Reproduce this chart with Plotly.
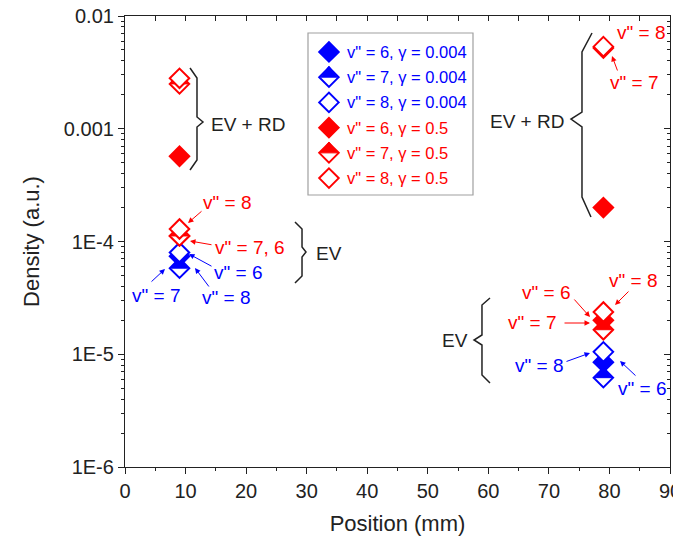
import plotly.graph_objects as go

# ---------------- data ----------------
position = [9, 79, 9, 79]            # mm  (first pair: EV group, second pair: EV+RD group)
# gamma = 0.004 (EV only)
pos_g004 = [9, 79]
v6_g004 = [7.4e-5, 8.5e-6]
v7_g004 = [5.8e-5, 6.2e-6]
v8_g004 = [8.0e-5, 1.05e-5]
# gamma = 0.5 (EV, then EV + RD)
v6_g05 = [1.12e-4, 2.0e-5, 5.7e-4, 2.0e-4]
v7_g05 = [1.12e-4, 1.65e-5, 2.5e-3, 5.2e-3]
v8_g05 = [1.29e-4, 2.37e-5, 2.8e-3, 5.35e-3]

y_tickvals = [1e-6, 1e-5, 1e-4, 1e-3, 1e-2]
y_ticktext = ["1E-6", "1E-5", "1E-4", "0.001", "0.01"]

legend_labels = ['v" = 6, \u03b3 = 0.004', 'v" = 7, \u03b3 = 0.004', 'v" = 8, \u03b3 = 0.004',
                 'v" = 6, \u03b3 = 0.5', 'v" = 7, \u03b3 = 0.5', 'v" = 8, \u03b3 = 0.5']

BLUE = "#0000ff"
RED = "#ff0000"
INK = "#222222"
FONT = "Liberation Sans, Arial, sans-serif"

MS = 15        # diamond size
LW = 2         # outline width
TS = 14.4      # size of the filled top-half triangle

fig = go.Figure()


def add_points(x, y, color, style, xa="x", ya="y"):
    if style == "filled":
        fig.add_trace(go.Scatter(x=x, y=y, mode="markers", xaxis=xa, yaxis=ya, showlegend=False,
                                 hoverinfo="skip",
                                 marker=dict(symbol="diamond", size=MS, color=color,
                                             line=dict(color=color, width=LW))))
    else:
        fig.add_trace(go.Scatter(x=x, y=y, mode="markers", xaxis=xa, yaxis=ya, showlegend=False,
                                 hoverinfo="skip",
                                 marker=dict(symbol="diamond", size=MS, color="white",
                                             line=dict(color=color, width=LW))))
        if style == "half":
            fig.add_trace(go.Scatter(x=x, y=y, mode="markers", xaxis=xa, yaxis=ya, showlegend=False,
                                     hoverinfo="skip",
                                     marker=dict(symbol="triangle-down", size=TS, angle=180,
                                                 standoff=TS / 4, color=color,
                                                 line=dict(color=color, width=1))))


series = [
    (pos_g004, v6_g004, BLUE, "filled"),
    (pos_g004, v7_g004, BLUE, "half"),
    (pos_g004, v8_g004, BLUE, "open"),
    (position, v6_g05, RED, "filled"),
    (position, v7_g05, RED, "half"),
    (position, v8_g05, RED, "open"),
]
for xs, ys, c, st in series:
    add_points(xs, ys, c, st)

# legend drawn on its own small axes
for i, (xs, ys, c, st) in enumerate(series):
    add_points([0.127], [i], c, st, xa="x2", ya="y2")

# dummy trace for the mirrored (inward-tick) axes
fig.add_trace(go.Scatter(x=[], y=[], xaxis="x3", yaxis="y3", showlegend=False))

# ---------------- layout helpers ----------------
# page offset of the figure inside the browser window (default body margin)
OX, OY = 8, 8
W, H = 681 - OX, 544 - OY
L, T, PW, PH = 125, 16, 545, 451     # plot area in window pixels


def P(x, y):
    return (x - L) / PW, (T + PH - y) / PH


ann = []
for i, (lbl, (_, _, c, _)) in enumerate(zip(legend_labels, series)):
    ann.append(dict(x=0.225, y=i, xref="x2", yref="y2", text=lbl, showarrow=False,
                    xanchor="left", yanchor="middle", font=dict(size=16.5, color=c, family=FONT)))

texts = [
    ("EV + RD", 248, 124, INK), ("EV", 329, 253, INK),
    ('v" = 8', 227, 202, RED), ('v" = 7, 6', 250, 247, RED),
    ('v" = 6', 238, 272, BLUE), ('v" = 8', 226, 297, BLUE), ('v" = 7', 156, 295, BLUE),
    ("EV + RD", 527, 122, INK), ('v" = 8', 641, 32, RED), ('v" = 7', 634, 82, RED),
    ("EV", 455, 340, INK), ('v" = 8', 633, 280, RED), ('v" = 6', 546, 292, RED),
    ('v" = 7', 532, 322, RED), ('v" = 8', 539, 365, BLUE), ('v" = 6', 642, 388, BLUE),
]
for t, x, y, c in texts:
    px, py = P(x, y)
    ann.append(dict(x=px, y=py, xref="paper", yref="paper", text=t, showarrow=False,
                    xanchor="center", yanchor="middle", font=dict(size=19, color=c, family=FONT)))

arrows = [  # tail -> head (pixels)
    ((203, 210), (188, 223), RED), ((213, 245), (190, 241), RED),
    ((213, 267), (189, 254), BLUE), ((210, 288), (195, 268), BLUE), ((150, 283), (165, 269), BLUE),
    ((618, 72), (612, 56), RED), ((630, 290), (615, 305), RED), ((573, 298), (590, 317), RED),
    ((563, 323), (590, 323), RED), ((565, 362), (590, 353), BLUE), ((637, 377), (620, 361), BLUE),
]
for (tx, ty), (hx, hy), c in arrows:
    px, py = P(hx, hy)
    ann.append(dict(x=px, y=py, xref="paper", yref="paper", text="", showarrow=True,
                    ax=tx - hx, ay=ty - hy, arrowhead=2, arrowsize=1.1, arrowwidth=1,
                    arrowcolor=c, standoff=0, startstandoff=0))

braces = [
    [(190, 68), (197, 78), (197, 117), (203, 122), (197, 127), (197, 160), (190, 170)],
    [(295, 222), (302, 229), (302, 247), (306, 252), (302, 257), (302, 276), (295, 283)],
    [(592, 33), (582, 52), (582, 112), (571, 119), (582, 127), (582, 197), (591, 217)],
    [(490, 298), (482, 305), (482, 335), (474, 340), (482, 345), (482, 375), (490, 383)],
]
shapes = []
for br in braces:
    pts = [P(x, y) for x, y in br]
    path = "M " + " L ".join(f"{a:.4f},{b:.4f}" for a, b in pts)
    shapes.append(dict(type="path", xref="paper", yref="paper", path=path,
                       line=dict(color=INK, width=1.5)))
shapes.append(dict(type="rect", xref="x2 domain", yref="y2 domain", x0=0, x1=1, y0=0, y1=1,
                   line=dict(color="#a0a0a0", width=1.2), fillcolor="rgba(0,0,0,0)"))

minor_y = [m * 10 ** e for e in range(-6, -2) for m in range(2, 10)]

axis_common = dict(showgrid=False, zeroline=False, showline=True, linecolor=INK, linewidth=1.2,
                   tickcolor=INK, tickwidth=1.2, automargin=False)

fig.update_layout(
    width=W, height=H,
    margin=dict(l=L - OX, r=W - (L - OX) - PW, t=T - OY, b=H - (T - OY) - PH, autoexpand=False),
    paper_bgcolor="white", plot_bgcolor="white",
    font=dict(family=FONT, color=INK),
    showlegend=False,
    xaxis=dict(range=[0, 90], dtick=10, ticks="outside", ticklen=6, ticklabeloverflow="allow",
               minor=dict(dtick=5, ticks="outside", ticklen=3, tickcolor=INK, tickwidth=1.2),
               tickfont=dict(size=20, color=INK),
               title=dict(text="Position (mm)", font=dict(size=22, color=INK), standoff=14),
               **axis_common),
    yaxis=dict(type="log", range=[-6, -2], tickmode="array", tickvals=y_tickvals, ticktext=y_ticktext,
               ticks="outside", ticklen=6, ticklabeloverflow="allow",
               minor=dict(tickmode="array", tickvals=minor_y, ticks="outside", ticklen=3,
                          tickcolor=INK, tickwidth=1.2),
               tickfont=dict(size=20, color=INK),
               title=dict(text="Density (a.u.)", font=dict(size=22, color=INK), standoff=18),
               **axis_common),
    xaxis3=dict(overlaying="x", side="top", anchor="y", range=[0, 90], dtick=10, ticks="inside",
                ticklen=5, showticklabels=False,
                minor=dict(dtick=5, ticks="inside", ticklen=5, tickcolor=INK, tickwidth=1.2),
                **axis_common),
    yaxis3=dict(overlaying="y", side="right", anchor="x", type="log", range=[-6, -2],
                tickmode="array", tickvals=y_tickvals, ticks="inside", ticklen=6,
                showticklabels=False,
                minor=dict(tickmode="array", tickvals=minor_y, ticks="inside", ticklen=3,
                           tickcolor=INK, tickwidth=1.2),
                **axis_common),
    xaxis2=dict(domain=[P(308, 0)[0], P(473, 0)[0]], range=[0, 1], visible=False, anchor="y2",
                fixedrange=True),
    yaxis2=dict(domain=[P(0, 195)[1], P(0, 33)[1]], range=[5.67, -0.75], visible=False, anchor="x2",
                fixedrange=True),
    annotations=ann,
    shapes=shapes,
)

fig.write_html("out.html")
